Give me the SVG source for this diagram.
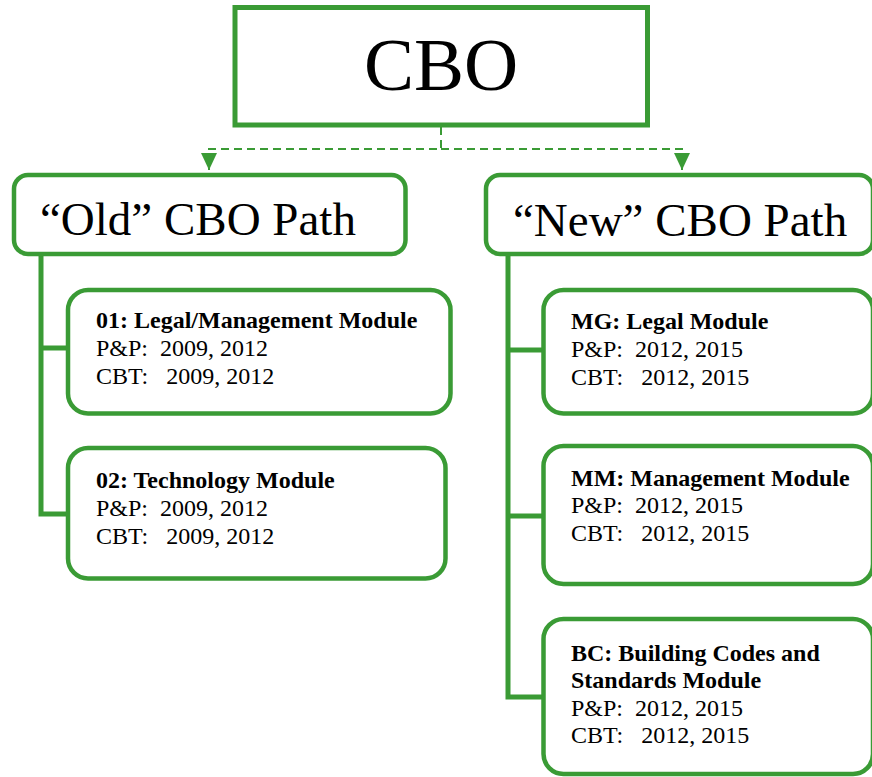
<svg xmlns="http://www.w3.org/2000/svg" width="872" height="777" viewBox="0 0 872 777" xml:space="preserve">
<style>
.box{fill:#ffffff;stroke:#3a9b35;stroke-width:4.5}
.main{fill:#ffffff;stroke:#3a9b35;stroke-width:5}
.link{fill:none;stroke:#3a9b35;stroke-width:5}
.dash{fill:none;stroke:#3a9b35;stroke-width:2;stroke-dasharray:8 5}
text{font-family:"Liberation Serif","Times New Roman",serif;fill:#000000;white-space:pre}
.t{font-size:24px}
.b{font-size:24px;font-weight:bold}
.h{font-size:47px}
</style>
<defs>
<marker id="arr" markerUnits="userSpaceOnUse" markerWidth="18" markerHeight="18" viewBox="0 0 18 18" refX="9" refY="17" orient="0">
<polygon points="1,0 17,0 9,17" fill="#3a9b35"/>
</marker>
</defs>
<g id="connectors">
<path class="dash" d="M441,127 V149 H209 V170" marker-end="url(#arr)"/>
<path class="dash" d="M441,149 H682 V170" marker-end="url(#arr)"/>
<path class="link" d="M41,255 V514 H68 M41,348 H68"/>
<path class="link" d="M508,255 V697 H543 M508,350 H543 M508,516 H543"/>
</g>
<g id="cbo">
<rect class="main" x="235" y="7.5" width="412.5" height="117.5"/>
<text x="441" y="90" text-anchor="middle" style="font-size:75px">CBO</text>
</g>
<g id="old-path">
<rect class="box" x="14" y="175" width="391.5" height="79" rx="14"/>
<text class="h" x="40" y="235">“Old” CBO Path</text>
</g>
<g id="new-path">
<rect class="box" x="486" y="175" width="387" height="79" rx="14"/>
<text class="h" x="513" y="236">“New” CBO Path</text>
</g>
<g id="module-01">
<rect class="box" x="68" y="290" width="382.5" height="123.5" rx="20"/>
<text class="b" x="96" y="328">01: Legal/Management Module</text>
<text class="t" x="96" y="356">P&amp;P:  2009, 2012</text>
<text class="t" x="96" y="384">CBT:   2009, 2012</text>
</g>
<g id="module-02">
<rect class="box" x="68" y="448" width="377.5" height="130.5" rx="20"/>
<text class="b" x="96" y="488">02: Technology Module</text>
<text class="t" x="96" y="516">P&amp;P:  2009, 2012</text>
<text class="t" x="96" y="544">CBT:   2009, 2012</text>
</g>
<g id="module-mg">
<rect class="box" x="543.5" y="290" width="329.5" height="123.5" rx="20"/>
<text class="b" x="571" y="329">MG: Legal Module</text>
<text class="t" x="571" y="357">P&amp;P:  2012, 2015</text>
<text class="t" x="571" y="385">CBT:   2012, 2015</text>
</g>
<g id="module-mm">
<rect class="box" x="543.5" y="446" width="329.5" height="138" rx="20"/>
<text class="b" x="571" y="486">MM: Management Module</text>
<text class="t" x="571" y="513">P&amp;P:  2012, 2015</text>
<text class="t" x="571" y="541">CBT:   2012, 2015</text>
</g>
<g id="module-bc">
<rect class="box" x="543.5" y="619" width="329.5" height="155" rx="20"/>
<text class="b" x="571" y="661">BC: Building Codes and</text>
<text class="b" x="571" y="688">Standards Module</text>
<text class="t" x="571" y="716">P&amp;P:  2012, 2015</text>
<text class="t" x="571" y="743">CBT:   2012, 2015</text>
</g>
</svg>
